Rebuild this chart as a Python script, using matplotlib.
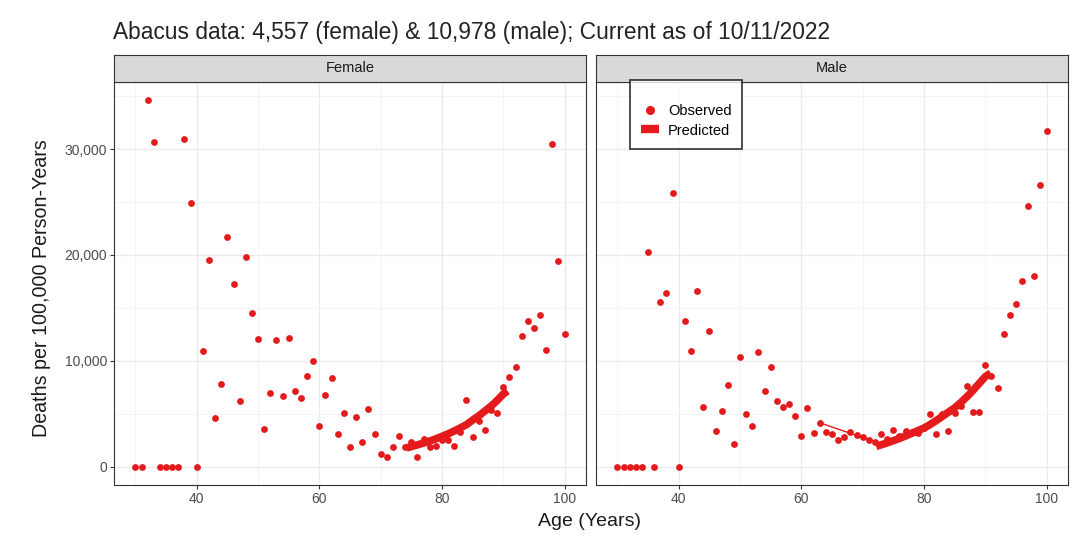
import numpy as np
import matplotlib.pyplot as plt
from matplotlib.lines import Line2D

plt.rcParams["font.family"] = ["Liberation Sans", "DejaVu Sans"]

# observed rates, deaths per 100,000 person-years
female_age = list(range(30, 101))
female_obs = [0, 0, 34600, 30650, 0, 0, 0, 0, 30950, 24900,
              0, 10970, 19500, 4560, 7830, 21650, 17260, 6160, 19840, 14560,
              12050, 3550, 6950, 11920, 6630, 12170, 7140, 6450, 8580, 9970,
              3800, 6760, 8330, 3110, 5060, 1860, 4690, 2370, 5440, 3080,
              1160, 940, 1820, 2890, 1890, 2300, 940, 2610, 1850, 1950,
              2550, 2480, 1980, 3300, 6290, 2770, 4300, 3460, 5400, 5030,
              7520, 8460, 9400, 12360, 13740, 13110, 14370, 11040, 30450, 19400,
              12520]

male_age = list(range(30, 101))
male_obs = [0, 0, 0, 0, 0, 20230, 0, 15540, 16390, 25850,
            0, 13800, 10880, 16630, 5600, 12830, 3330, 5280, 7670, 2170,
            10350, 4930, 3800, 10850, 7140, 9460, 6160, 5600, 5880, 4810,
            2920, 5530, 3140, 4150, 3300, 3050, 2480, 2800, 3240, 3020,
            2770, 2480, 2290, 3110, 2610, 3490, 2920, 3330, 3240, 3180,
            3650, 4970, 3080, 4970, 3400, 5060, 5690, 7580, 5160, 5160,
            9620, 8580, 7390, 12520, 14310, 15350, 17550, 24650, 18020, 26600,
            31670]

# predicted curves
female_pred_age = [74.2, 75, 76, 77, 78, 79, 80, 81, 82, 83, 84, 85, 86, 87, 88, 89, 90, 90.7]
female_pred = [1760, 1900, 2060, 2230, 2420, 2630, 2860, 3100, 3370, 3660, 3970, 4400,
               4800, 5250, 5720, 6250, 6860, 7150]

male_thin_age = [63, 64, 65, 66, 67, 68, 69, 70, 71, 72]
male_thin = [4150, 3950, 3750, 3550, 3350, 3150, 2950, 2750, 2550, 2400]

male_pred_age = [72.2, 73, 74, 75, 76, 77, 78, 79, 80, 81, 82, 83, 84, 85, 86, 87, 88, 89, 90, 90.9]
male_pred = [1920, 2060, 2250, 2450, 2670, 2900, 3150, 3400, 3650, 3980, 4350, 4750,
             5150, 5550, 6050, 6600, 7200, 7850, 8500, 8840]

title = "Abacus data: 4,557 (female) & 10,978 (male); Current as of 10/11/2022"
red = "#E41A1C"
txt = "#4D4D4D"

W, H = 1091, 544
fig = plt.figure(figsize=(W / 100, H / 100), dpi=100)
fig.text(113 / W, 1 - 33 / H, title, fontsize=16.4, color="#222222", va="center", ha="left")

panels = [
    ("Female", 114, female_age, female_obs, [], [], female_pred_age, female_pred),
    ("Male", 596, male_age, male_obs, male_thin_age, male_thin, male_pred_age, male_pred),
]

bottom = 1 - 485 / H
height = (485 - 82) / H
width = 472 / W
strip_h = 27 / H
axes = []
for name, left_px, ages, obs, tage, tval, page, pval in panels:
    left = left_px / W
    ax = fig.add_axes([left, bottom, width, height])
    axes.append(ax)
    ax.set_xlim(26.5, 103.5)
    ax.set_ylim(-1730, 36330)
    ax.set_xticks([40, 60, 80, 100])
    ax.set_xticks([30, 50, 70, 90], minor=True)
    ax.set_yticks([0, 10000, 20000, 30000])
    ax.set_yticks([5000, 15000, 25000, 35000], minor=True)
    ax.grid(which="major", color="#EBEBEB", lw=1.0)
    ax.grid(which="minor", color="#F3F3F3", lw=0.6)
    ax.set_axisbelow(True)
    ax.tick_params(which="major", length=3, color="#333333", labelsize=10, labelcolor=txt, pad=2)
    ax.tick_params(which="minor", length=0)
    for s in ax.spines.values():
        s.set_color("#333333")
        s.set_linewidth(0.8)

    ax.scatter(ages, obs, s=24, color=red, zorder=3, linewidths=0)
    if tage:
        ax.plot(tage, tval, color=red, lw=1.0, zorder=3)
    ax.plot(page, pval, color=red, lw=5.5, solid_capstyle="butt", zorder=4)

    strip = fig.add_axes([left, bottom + height, width, strip_h])
    strip.set_facecolor("#D9D9D9")
    strip.set_xticks([])
    strip.set_yticks([])
    for s in strip.spines.values():
        s.set_color("#333333")
        s.set_linewidth(0.8)
    strip.text(0.5, 0.5, name, ha="center", va="center", fontsize=10.5, color="#1A1A1A",
               transform=strip.transAxes)

axes[0].set_yticklabels(["0", "10,000", "20,000", "30,000"])
axes[1].set_yticklabels([])
axes[1].tick_params(axis="y", length=0)

fig.text(42 / W, 1 - 288 / H, "Deaths per 100,000 Person-Years", rotation=90,
         ha="center", va="center", fontsize=14.1, color="#1A1A1A")
fig.text(590 / W, 1 - 521 / H, "Age (Years)", ha="center", va="center", fontsize=14,
         color="#1A1A1A")

handles = [
    Line2D([], [], marker="o", ls="none", color=red, markersize=5.5),
    Line2D([], [], color=red, lw=6, solid_capstyle="butt"),
]
leg = fig.legend(handles, ["Observed", "Predicted"], loc="upper left",
                 bbox_to_anchor=(630 / W, 1 - 80 / H), bbox_transform=fig.transFigure,
                 fontsize=10.5, frameon=True, fancybox=False, edgecolor="#111111",
                 handlelength=1.25, handletextpad=0.6, borderpad=0.75, labelspacing=0.4,
                 borderaxespad=0, title=" ", title_fontsize=5)
leg.get_frame().set_linewidth(1.3)

fig.savefig("out.png", dpi=100)
